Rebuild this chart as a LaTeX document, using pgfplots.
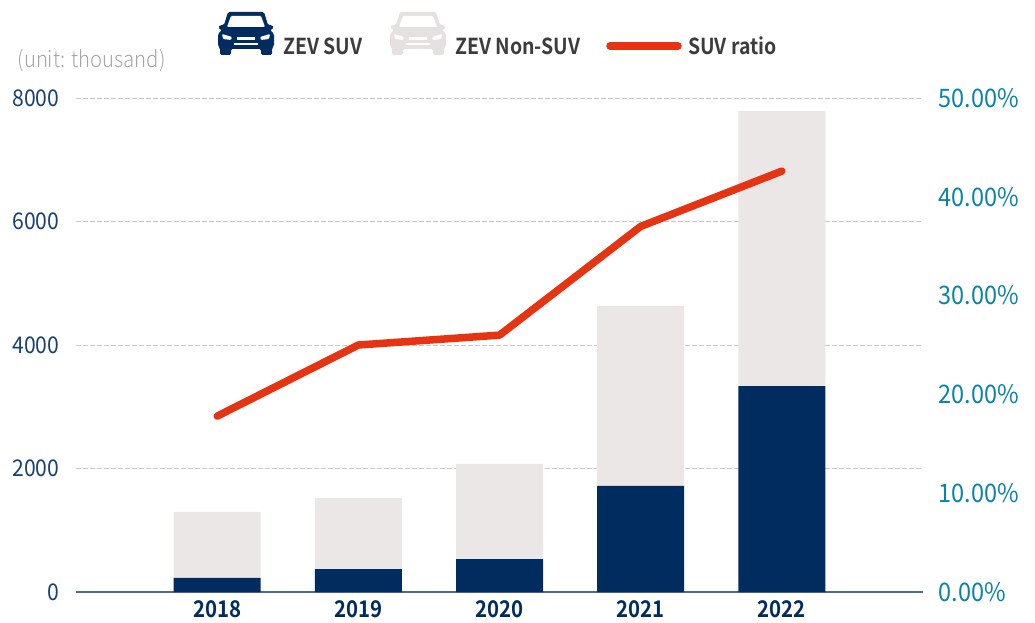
\documentclass[border=0pt]{standalone}
\usepackage{fontspec}
\setmainfont{Noto Sans CJK KR}
\newfontfamily\lightf[FakeStretch=0.9]{Noto Sans CJK KR Light}
\newfontfamily\regf[FakeStretch=0.92]{Noto Sans CJK KR}
\newfontfamily\boldf[FakeStretch=0.886]{Noto Sans CJK KR Bold}
\usepackage{pgfplots}
\pgfplotsset{compat=1.18}
\definecolor{navy}{HTML}{002C5F}
\definecolor{nonsuv}{HTML}{EBE7E6}
\definecolor{iconlt}{HTML}{E4E1E0}
\definecolor{redl}{HTML}{E63312}
\definecolor{teal2}{HTML}{0A84A6}
\definecolor{gridc}{HTML}{C8C8C8}
\definecolor{legtxt}{HTML}{3C3C3C}
\newcommand{\car}[3]{%
\begin{scope}[shift={(#2pt-76pt,592pt-#3pt)},x=1pt,y=-1pt]
\fill[#1,rounded corners=1.5pt] (10,0)--(46,0)--(50,13)--(54,13)--(56,16)--(52,18)--(56,22)--(56,34)--(54,36)--(54,43)--(43,43)--(43,37)--(13,37)--(13,43)--(2,43)--(2,36)--(0,34)--(0,22)--(4,18)--(0,16)--(2,13)--(6,13)--cycle;
\fill[white,rounded corners=1pt] (13,4)--(43,4)--(47,15)--(9,15)--cycle;
\fill[white,rounded corners=1pt] (4,22)--(14,25)--(13,28)--(5,27)--cycle;
\fill[white,rounded corners=1pt] (52,22)--(42,25)--(43,28)--(51,27)--cycle;
\fill[white] (19,25) rectangle (37,28);
\fill[white] (16,31) rectangle (40,33);
\end{scope}}
\begin{document}
\begin{tikzpicture}[x=1pt,y=1pt]
\path[use as bounding box] (-76pt,-30pt) rectangle (959pt,592pt);
\begin{axis}[
  at={(0pt,0pt)},anchor=south west,
  scale only axis,width=847pt,height=494pt,
  xmin=-1,xmax=5,ymin=0,ymax=8000,
  ybar stacked,bar width=87pt,
  axis x line*=bottom,axis y line*=left,
  axis line style={navy!70,line width=1.2pt,-},
  y axis line style={draw=none},
  xtick={0,1,2,3,4},xticklabels={2018,2019,2020,2021,2022},
  xticklabel style={font=\boldf\fontsize{23}{27}\selectfont,text=navy,yshift=-5pt},
  ytick={0,2000,4000,6000,8000},
  yticklabel style={font=\regf\fontsize{23}{27}\selectfont,text=navy!90,xshift=-13pt,/pgf/number format/assume math mode=true,/pgf/number format/1000 sep={}},
  tick style={draw=none},
  ymajorgrids,grid style={gridc,dash pattern=on 5pt off 2pt,line width=0.9pt},
  axis on top=false,
  clip=false,
]
\addplot[fill=navy,draw=none] coordinates {(0,227)(1,372)(2,534)(3,1717)(4,3336)};
\addplot[fill=nonsuv,draw=none] coordinates {(0,1069)(1,1150)(2,1539)(3,2915)(4,4453)};
\end{axis}
\begin{axis}[
  at={(0pt,0pt)},anchor=south west,
  scale only axis,width=847pt,height=494pt,
  xmin=-1,xmax=5,ymin=0,ymax=50,
  axis x line=none,axis y line*=right,
  y axis line style={draw=none},
  ytick={0,10,20,30,40,50},
  yticklabels={0.00\%,10.00\%,20.00\%,30.00\%,40.00\%,50.00\%},
  yticklabel style={font=\regf\fontsize{25.5}{29}\selectfont,text=teal2,xshift=12pt},
  tick style={draw=none},
]
\addplot[redl,line width=7.5pt,line cap=round,line join=round] coordinates {(0,17.8)(1,25)(2,26)(3,37)(4,42.6)};
\end{axis}
\node[anchor=west,text=gray!70,font=\lightf\fontsize{22.5}{26}\selectfont,inner sep=0pt] at (-58.5pt,531.5pt) {(unit: thousand)};
\car{navy}{218}{12}
\car{iconlt}{390}{12}
\node[anchor=west,text=legtxt,font=\boldf\fontsize{22}{26}\selectfont,inner sep=0pt] at (207pt,546pt) {ZEV SUV};
\node[anchor=west,text=legtxt,font=\boldf\fontsize{22}{26}\selectfont,inner sep=0pt] at (379pt,546pt) {ZEV Non-SUV};
\draw[redl,line width=7.5pt,line cap=round] (534pt,546pt)--(602pt,546pt);
\node[anchor=west,text=legtxt,font=\boldf\fontsize{22}{26}\selectfont,inner sep=0pt] at (612pt,546pt) {SUV ratio};
\end{tikzpicture}
\end{document}
